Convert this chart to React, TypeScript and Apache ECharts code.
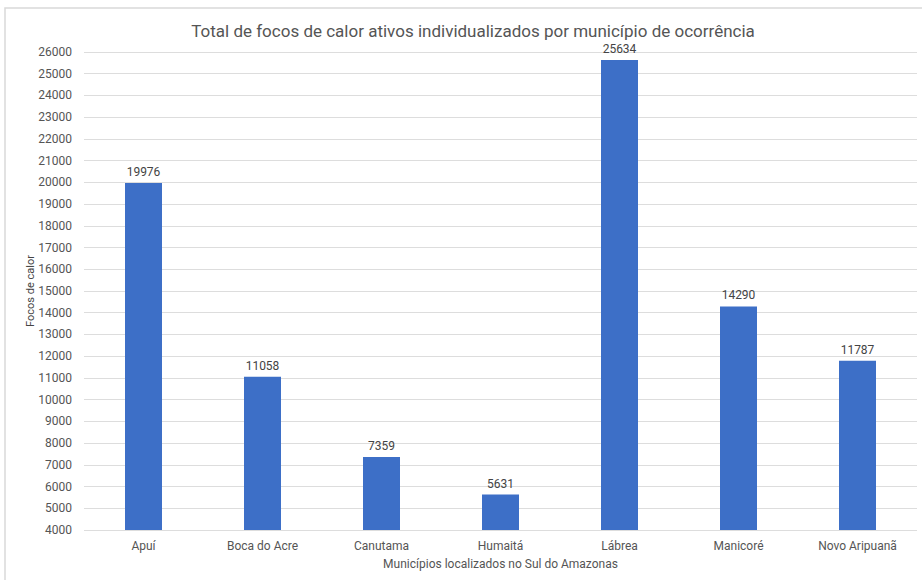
import React, { useEffect, useRef } from "react";
import * as echarts from "echarts";

const categories = ["Apuí", "Boca do Acre", "Canutama", "Humaitá", "Lábrea", "Manicoré", "Novo Aripuanã"];
const values = [19976, 11058, 7359, 5631, 25634, 14290, 11787];
const titleText = "Total de focos de calor ativos individualizados por município de ocorrência";
const xName = "Municípios localizados no Sul do Amazonas";
const yName = "Focos de calor";

export default function App() {
  const ref = useRef<HTMLDivElement>(null);
  useEffect(() => {
    document.body.style.margin = "0";
    const chart = echarts.init(ref.current!, null, { renderer: "svg" });
    chart.setOption({
      animation: false,
      backgroundColor: "#ffffff",
      textStyle: { fontFamily: "Roboto, Arial, sans-serif" },
      title: {
        text: titleText,
        left: 468,
        top: 17,
        textAlign: "center",
        textStyle: { fontSize: 17, fontWeight: "normal", color: "#555555", fontFamily: "Roboto, Arial, sans-serif" },
      },
      graphic: [
        {
          type: "rect",
          shape: { x: 5, y: 8, width: 930, height: 600 },
          style: { fill: "none", stroke: "#d9d9d9", lineWidth: 1.5 },
          silent: true,
          z: 0,
        },
      ],
      grid: { left: 84, right: 5, top: 52, bottom: 50, containLabel: false },
      xAxis: {
        type: "category",
        data: categories,
        name: xName,
        nameLocation: "middle",
        nameGap: 28,
        nameMoveOverlap: false,
        nameTextStyle: { fontSize: 12, color: "#555555" },
        axisLine: { show: false },
        axisTick: { show: false },
        axisLabel: { fontSize: 12, color: "#555555", margin: 10 },
      },
      yAxis: {
        type: "value",
        min: 4000,
        max: 26000,
        interval: 1000,
        name: yName,
        nameLocation: "middle",
        nameGap: 48,
        nameMoveOverlap: false,
        nameRotate: 90,
        nameTextStyle: { fontSize: 11, color: "#444444" },
        axisLine: { show: false },
        axisTick: { show: false },
        axisLabel: { fontSize: 12, color: "#555555", margin: 12, formatter: (v: number) => String(v) },
        splitLine: { lineStyle: { color: "#dddddd", width: 1 } },
      },
      series: [
        {
          type: "bar",
          data: values,
          barWidth: 37,
          itemStyle: { color: "#3d6fc7" },
          label: { show: true, position: "top", fontSize: 12, color: "#444444", distance: 5 },
        },
      ],
    });
    return () => chart.dispose();
  }, []);
  return <div ref={ref} style={{ width: 922, height: 580 }} />;
}
